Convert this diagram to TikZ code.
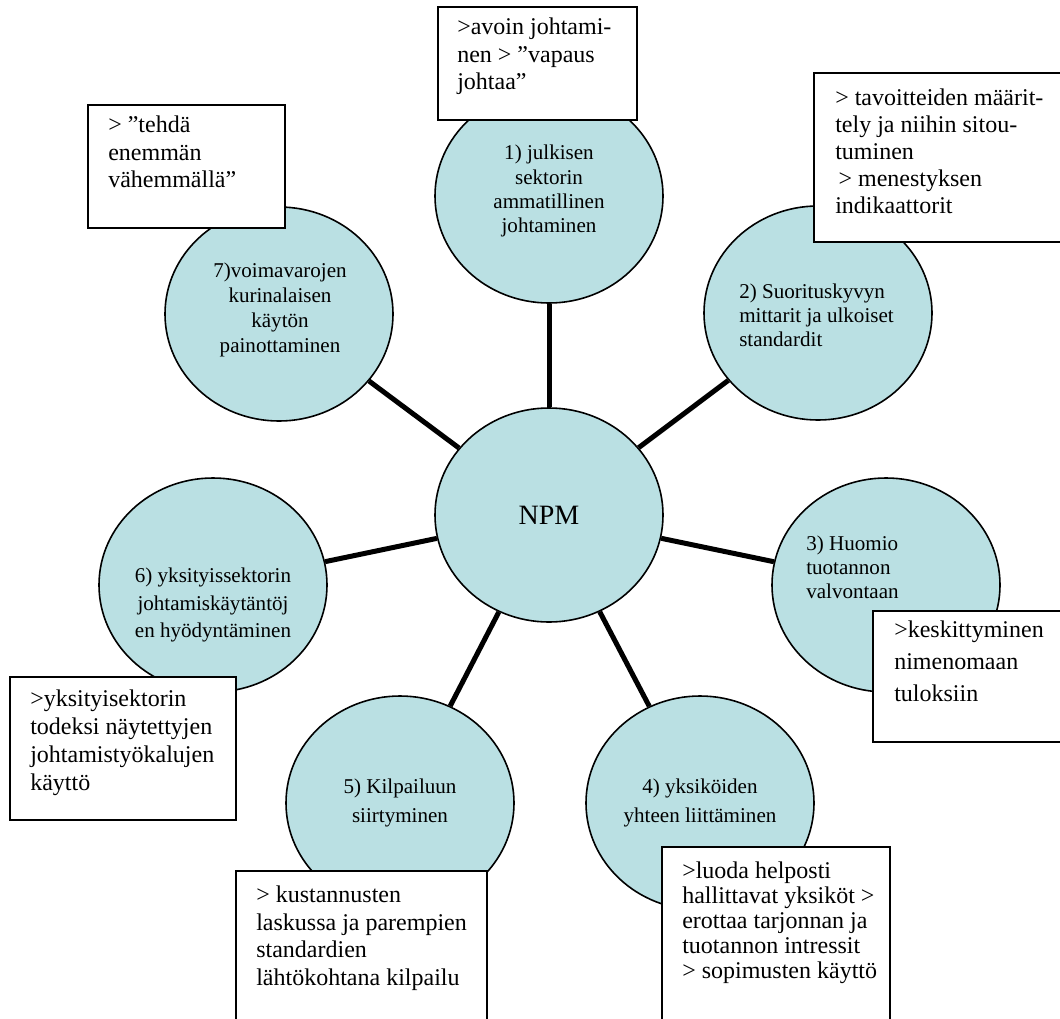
\documentclass[tikz,border=0pt]{standalone}
\usepackage{fontspec}
\setmainfont{Liberation Serif}
\usetikzlibrary{fit,shapes.geometric}
\definecolor{bubblefill}{RGB}{186,224,227}
\begin{document}
\begin{tikzpicture}[x=0.75pt,y=-0.75pt,
  bubble/.style={ellipse, draw=black, line width=1.2pt, fill=bubblefill,
    minimum width=171pt, minimum height=160.5pt, inner sep=0pt},
  spoke/.style={line width=3.75pt},
  notebox/.style={draw=black, line width=1.3pt, fill=white, inner sep=0pt},
  ctext/.style={font=\fontsize{15.8}{#1}\selectfont, align=center, anchor=north,
    inner sep=0pt, yshift=0.7*#1, execute at begin node=\strut},
  btext/.style={font=\fontsize{18}{#1}\selectfont, align=left, anchor=north west,
    inner sep=0pt, yshift=0.7*#1, execute at begin node=\strut}]

\useasboundingbox (0,0) rectangle (1060,1018);
\clip (0,0) rectangle (1060,1018);

% hub and the seven themes
\node[bubble, font=\fontsize{21}{25}\selectfont] (npm) at (549,515) {NPM};
\node[bubble] (c1) at (549,196) {};
\node[bubble] (c2) at (818,313) {};
\node[bubble] (c3) at (886,585) {};
\node[bubble] (c4) at (700,803) {};
\node[bubble] (c5) at (400,803) {};
\node[bubble] (c6) at (213,585) {};
\node[bubble] (c7) at (279,314) {};

% spokes
\foreach \n in {c1,c2,c3,c4,c5,c6,c7}
  \draw[spoke] (npm) -- (\n);

% theme labels
\node[ctext=18.2pt] (c1t) at (549,162) {1) julkisen\\sektorin\\ammatillinen\\johtaminen};
\node[ctext=18pt, align=left, anchor=north west] (c2t) at (739,300)
  {2) Suorituskyvyn\\mittarit ja ulkoiset\\standardit};
\node[ctext=18pt, align=left, anchor=north west] (c3t) at (806,552)
  {3) Huomio\\tuotannon\\valvontaan};
\node[ctext=21.4pt] (c4t) at (700,799) {4) yksiköiden\\yhteen liittäminen};
\node[ctext=22pt] (c5t) at (400,799) {5) Kilpailuun\\siirtyminen};
\node[ctext=20.6pt] (c6t) at (213,587) {6) yksityissektorin\\johtamiskäytäntöj\\en hyödyntäminen};
\node[ctext=18.75pt] (c7t) at (280,280) {7)voimavarojen\\kurinalaisen\\käytön\\painottaminen};

% note boxes
\node[notebox, fit={(438,7) (637,120)}] (b1) {};
\node[btext=20.6pt] (b1t) at (457,37) {>avoin johtami-\\nen > ”vapaus\\johtaa”};

\node[notebox, fit={(814,73) (1066,242)}] (b2) {};
\node[btext=20.25pt] (b2t) at (835,107)
  {> tavoitteiden määrit-\\tely ja niihin sitou-\\tuminen\\\hspace*{2.5pt}> menestyksen\\indikaattorit};

\node[notebox, fit={(873,611) (1066,742)}] (b3) {};
\node[btext=24pt] (b3t) at (894,643) {>keskittyminen\\nimenomaan\\tuloksiin};

\node[notebox, fit={(662,847) (890,1040)}] (b4) {};
\node[btext=18.75pt] (b4t) at (682,879)
  {>luoda helposti\\hallittavat yksiköt >\\erottaa tarjonnan ja\\tuotannon intressit\\> sopimusten käyttö};

\node[notebox, fit={(236,871) (487,1040)}] (b5) {};
\node[btext=20.6pt] (b5t) at (256,905)
  {> kustannusten\\laskussa ja parempien\\standardien\\lähtökohtana kilpailu};

\node[notebox, fit={(10,677) (236,820)}] (b6) {};
\node[btext=21pt] (b6t) at (30,709)
  {>yksityisektorin\\todeksi näytettyjen\\johtamistyökalujen\\käyttö};

\node[notebox, fit={(88,105) (285,228)}] (b7) {};
\node[btext=20.6pt] (b7t) at (108,135) {> ”tehdä\\enemmän\\vähemmällä”};

\end{tikzpicture}
\end{document}
